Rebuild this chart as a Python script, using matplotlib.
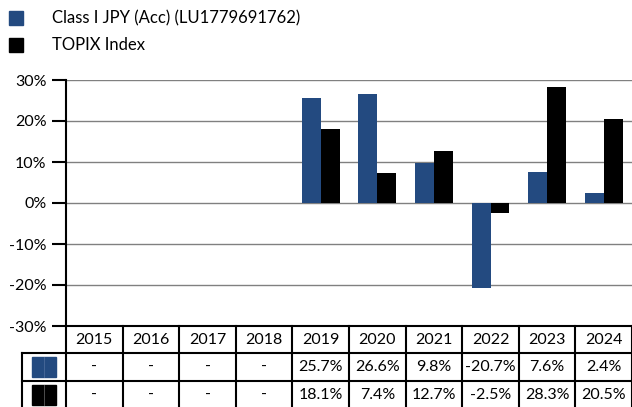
import numpy as np
import matplotlib.pyplot as plt
from matplotlib.patches import Rectangle

years = ["2015", "2016", "2017", "2018", "2019", "2020", "2021", "2022", "2023", "2024"]
fund = [np.nan, np.nan, np.nan, np.nan, 25.7, 26.6, 9.8, -20.7, 7.6, 2.4]
topix = [np.nan, np.nan, np.nan, np.nan, 18.1, 7.4, 12.7, -2.5, 28.3, 20.5]
fund_label = "Class I JPY (Acc) (LU1779691762)"
topix_label = "TOPIX Index"
blue = "#234A80"
black = "#000000"

plt.rcParams['font.family'] = ['Lato', 'DejaVu Sans']
W, H = 632, 407
fig = plt.figure(figsize=(W / 100, H / 100), dpi=100)

x0, x1 = 66, 632
y_top, y_axis = 80, 326
ax = fig.add_axes([x0 / W, 1 - y_axis / H, (x1 - x0) / W, (y_axis - y_top) / H])
x = np.arange(len(years))
bw = 0.335
ax.bar(x - bw / 2, fund, bw, color=blue)
ax.bar(x + bw / 2, topix, bw, color=black)
ax.set_xlim(-0.5, len(years) - 0.5)
ax.set_ylim(-30, 30)
ax.set_yticks(range(-30, 31, 10))
ax.set_yticklabels([f"{v}%" for v in range(-30, 31, 10)], fontsize=11.5)
ax.set_xticks([])
ax.yaxis.grid(True, color="#808080", lw=1)
ax.set_axisbelow(True)
for s in ["top", "right"]:
    ax.spines[s].set_visible(False)
ax.spines["left"].set_linewidth(1.5)
ax.spines["bottom"].set_linewidth(1.5)
ax.tick_params(axis="y", length=10, width=1.5, pad=4)

# table below the axis
tax = fig.add_axes([x0 / W, 0, (x1 - x0) / W, (H - y_axis) / H])
tax.set_xlim(-0.5, len(years) - 0.5)
tax.set_ylim(-2.95, 0)
tax.axis("off")
left = -0.5 - (x0 - 22) / ((x1 - x0) / len(years))
lw = 1.5
kw = dict(color="black", lw=lw, clip_on=False)
for i in range(len(years) + 1):
    tax.plot([i - 0.5, i - 0.5], [0, -3], **kw)
tax.plot([left, len(years) - 0.5], [-1, -1], **kw)
tax.plot([left, len(years) - 0.5], [-2, -2], **kw)
tax.plot([left, left], [-1, -3], **kw)

fmt = lambda v: "-" if np.isnan(v) else f"{v:.1f}%"
fs = 11.5
for i, yr in enumerate(years):
    tax.text(i, -0.5, yr, ha="center", va="center", fontsize=fs)
    tax.text(i, -1.5, fmt(fund[i]), ha="center", va="center", fontsize=fs)
    tax.text(i, -2.5, fmt(topix[i]), ha="center", va="center", fontsize=fs)

cw = left + (-0.5 - left) / 2
sw = 0.21
for r, c in [(-1.5, blue), (-2.5, black)]:
    tax.add_patch(Rectangle((cw - sw, r - 0.36), 2 * sw, 0.72, color=c, clip_on=False))
    tax.plot([cw, cw], [r - 0.36, r + 0.36], color="#5a5a5a" if c == black else "#4a6a9a",
             lw=0.6, clip_on=False)

# legend at the top
for yy, c, lab in [(18, blue, fund_label), (45, black, topix_label)]:
    fig.patches.append(Rectangle((9 / W, 1 - (yy + 7) / H), 14 / W, 14 / H,
                                 color=c, transform=fig.transFigure))
    fig.text(52 / W, 1 - yy / H, lab, va="center", fontsize=12)

fig.savefig("out.png", dpi=100)
